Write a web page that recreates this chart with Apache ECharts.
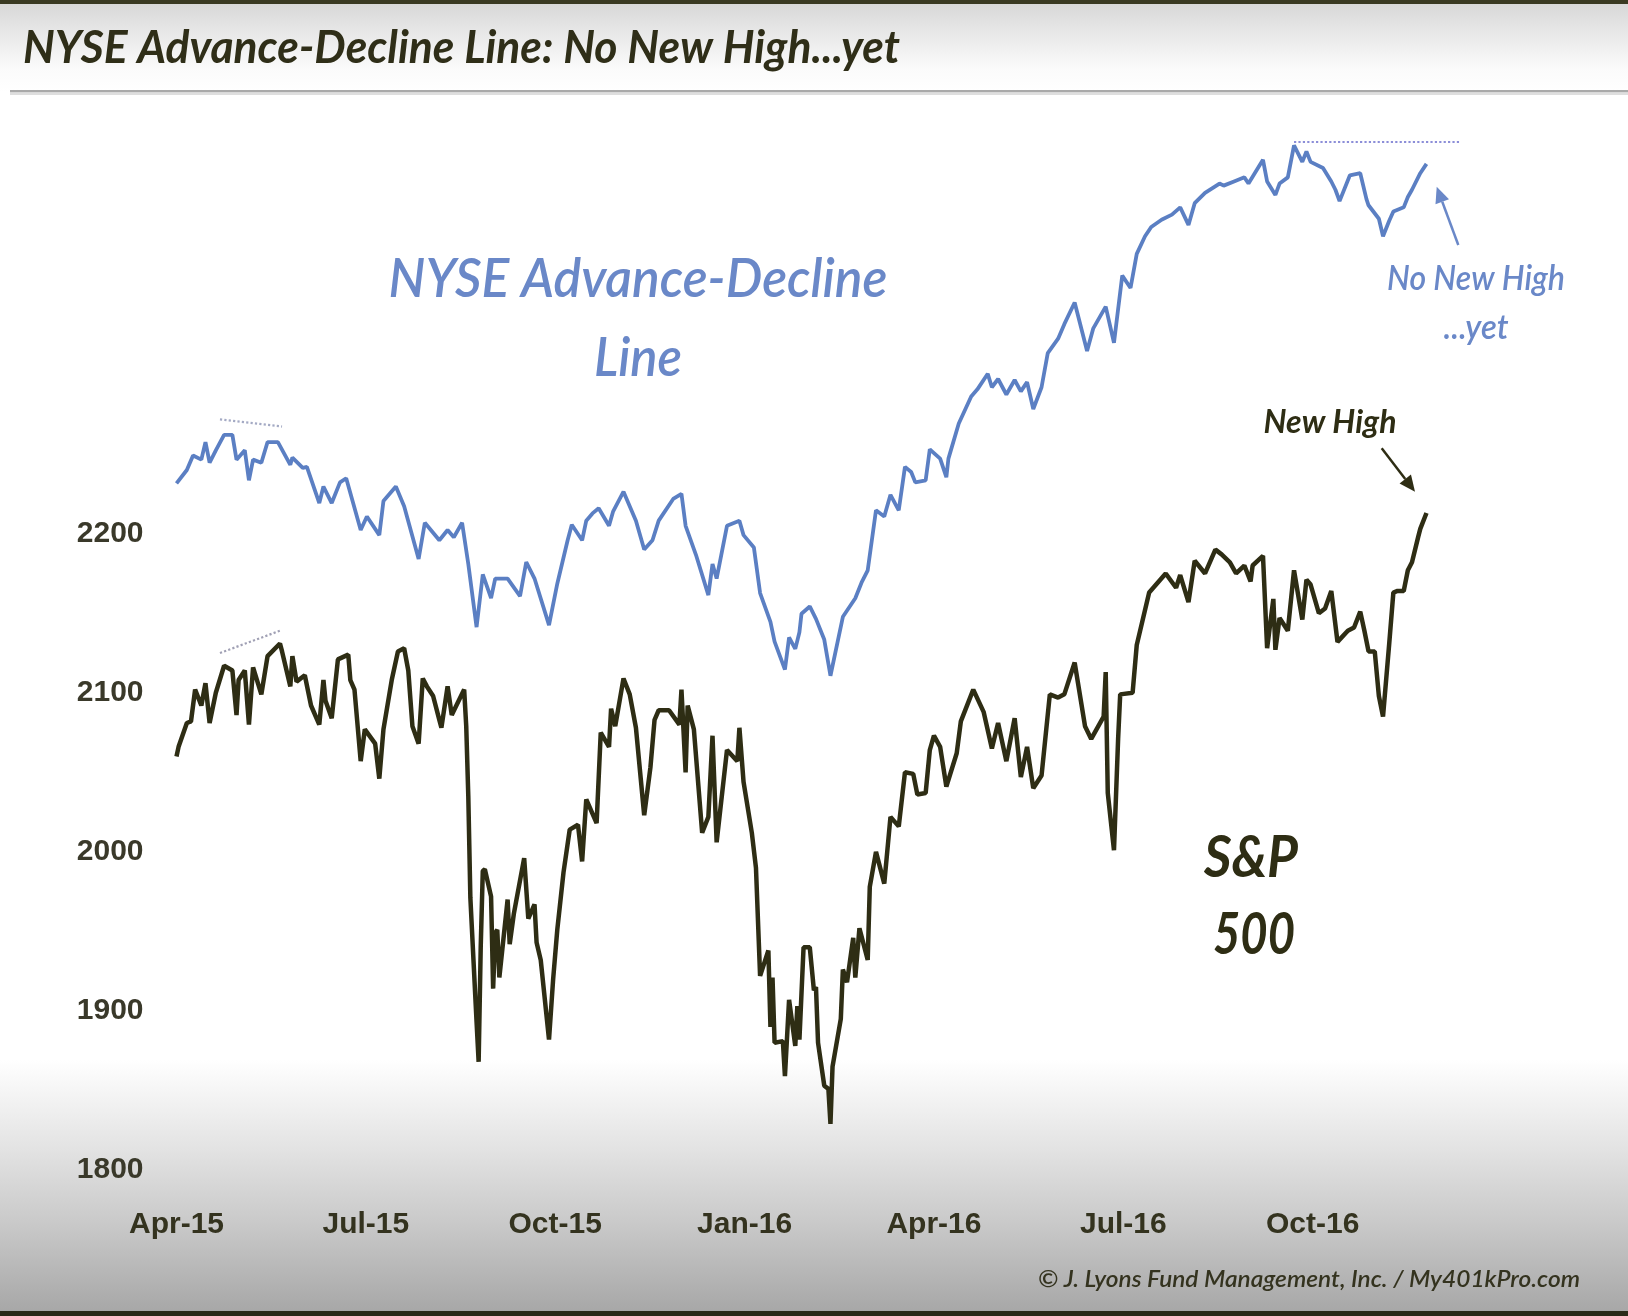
<!DOCTYPE html>
<html><head><meta charset="utf-8">
<script src="https://cdn.jsdelivr.net/npm/echarts@6/dist/echarts.min.js"></script>
<style>html,body{margin:0;padding:0;background:#fff}#c{width:1628px;height:1316px}</style>
</head><body><div id="c"></div><script>
// ---------------- DATA ----------------
const xTickLabels = ['Apr-15','Jul-15','Oct-15','Jan-16','Apr-16','Jul-16','Oct-16'];
const yTickValues = [1800, 1900, 2000, 2100, 2200];

const spDates = ['2015-04-01','2015-04-02','2015-04-06','2015-04-08','2015-04-10','2015-04-13','2015-04-15','2015-04-17','2015-04-20','2015-04-24','2015-04-28','2015-04-30','2015-05-01','2015-05-04','2015-05-06','2015-05-08','2015-05-12','2015-05-15','2015-05-21','2015-05-22','2015-05-26','2015-05-27','2015-05-29','2015-06-02','2015-06-05','2015-06-09','2015-06-11','2015-06-12','2015-06-15','2015-06-18','2015-06-23','2015-06-24','2015-06-26','2015-06-29','2015-07-01','2015-07-06','2015-07-08','2015-07-10','2015-07-14','2015-07-17','2015-07-20','2015-07-22','2015-07-24','2015-07-27','2015-07-29','2015-07-31','2015-08-03','2015-08-06','2015-08-07','2015-08-10','2015-08-12','2015-08-18','2015-08-19','2015-08-20','2015-08-21','2015-08-24','2015-08-25','2015-08-26','2015-08-27','2015-08-28','2015-08-31','2015-09-01','2015-09-02','2015-09-03','2015-09-04','2015-09-08','2015-09-09','2015-09-11','2015-09-16','2015-09-18','2015-09-21','2015-09-22','2015-09-24','2015-09-28','2015-09-30','2015-10-02','2015-10-05','2015-10-08','2015-10-12','2015-10-14','2015-10-16','2015-10-21','2015-10-23','2015-10-27','2015-10-28','2015-10-30','2015-11-03','2015-11-06','2015-11-09','2015-11-13','2015-11-16','2015-11-18','2015-11-20','2015-11-25','2015-11-30','2015-12-01','2015-12-03','2015-12-04','2015-12-07','2015-12-11','2015-12-14','2015-12-16','2015-12-18','2015-12-23','2015-12-28','2015-12-29','2015-12-31','2016-01-04','2016-01-06','2016-01-08','2016-01-12','2016-01-13','2016-01-14','2016-01-15','2016-01-19','2016-01-20','2016-01-22','2016-01-25','2016-01-26','2016-01-27','2016-01-29','2016-02-01','2016-02-03','2016-02-04','2016-02-05','2016-02-08','2016-02-10','2016-02-11','2016-02-12','2016-02-16','2016-02-17','2016-02-19','2016-02-22','2016-02-23','2016-02-25','2016-02-29','2016-03-01','2016-03-04','2016-03-08','2016-03-11','2016-03-15','2016-03-18','2016-03-22','2016-03-24','2016-03-28','2016-03-30','2016-04-01','2016-04-04','2016-04-07','2016-04-12','2016-04-14','2016-04-20','2016-04-25','2016-04-29','2016-05-02','2016-05-06','2016-05-10','2016-05-13','2016-05-16','2016-05-19','2016-05-23','2016-05-27','2016-05-31','2016-06-03','2016-06-08','2016-06-13','2016-06-16','2016-06-22','2016-06-23','2016-06-24','2016-06-27','2016-06-29','2016-06-30','2016-07-06','2016-07-08','2016-07-12','2016-07-14','2016-07-22','2016-07-27','2016-07-29','2016-08-02','2016-08-05','2016-08-10','2016-08-15','2016-08-18','2016-08-22','2016-08-25','2016-08-29','2016-09-01','2016-09-02','2016-09-07','2016-09-09','2016-09-12','2016-09-13','2016-09-15','2016-09-19','2016-09-22','2016-09-26','2016-09-28','2016-09-30','2016-10-04','2016-10-07','2016-10-10','2016-10-13','2016-10-18','2016-10-21','2016-10-24','2016-10-26','2016-10-28','2016-10-31','2016-11-02','2016-11-04','2016-11-07','2016-11-09','2016-11-11','2016-11-14','2016-11-16','2016-11-18','2016-11-21','2016-11-22','2016-11-25'];
const spValues = [2060,2066,2081,2082,2102,2092,2106,2081,2100,2117,2114,2086,2108,2114,2080,2116,2099,2123,2131,2126,2104,2123,2107,2111,2092,2080,2108,2095,2084,2121,2124,2108,2102,2057,2077,2068,2046,2077,2108,2126,2128,2114,2079,2068,2109,2104,2098,2083,2078,2104,2086,2102,2079,2035,1971,1893,1868,1940,1988,1989,1972,1914,1949,1951,1921,1970,1942,1961,1996,1958,1967,1943,1932,1882,1920,1951,1987,2014,2017,1994,2033,2018,2075,2066,2090,2079,2109,2099,2078,2023,2053,2083,2089,2089,2080,2102,2050,2092,2077,2012,2022,2073,2006,2064,2057,2078,2044,2012,1990,1922,1938,1890,1921,1880,1881,1859,1907,1878,1903,1882,1940,1940,1913,1915,1880,1853,1851,1829,1865,1895,1926,1918,1946,1921,1952,1932,1978,2000,1980,2022,2016,2050,2049,2036,2037,2064,2073,2066,2041,2062,2082,2102,2088,2065,2081,2057,2084,2047,2066,2040,2048,2099,2097,2099,2119,2079,2071,2085,2113,2037,2001,2071,2099,2100,2130,2152,2163,2175,2166,2174,2157,2183,2175,2190,2187,2182,2175,2180,2170,2180,2186,2128,2159,2127,2147,2139,2177,2146,2171,2168,2150,2153,2164,2132,2139,2141,2151,2139,2126,2126,2098,2085,2131,2163,2164,2164,2177,2182,2198,2203,2213];

// NYSE Advance-Decline line (relative index)
const adDates = ['2015-04-01','2015-04-06','2015-04-09','2015-04-13','2015-04-15','2015-04-17','2015-04-20','2015-04-24','2015-04-28','2015-04-30','2015-05-04','2015-05-06','2015-05-08','2015-05-12','2015-05-15','2015-05-20','2015-05-26','2015-05-27','2015-06-01','2015-06-03','2015-06-09','2015-06-11','2015-06-15','2015-06-19','2015-06-22','2015-06-29','2015-07-02','2015-07-08','2015-07-10','2015-07-16','2015-07-20','2015-07-27','2015-07-30','2015-08-06','2015-08-10','2015-08-13','2015-08-17','2015-08-20','2015-08-24','2015-08-27','2015-08-31','2015-09-02','2015-09-08','2015-09-14','2015-09-17','2015-09-21','2015-09-28','2015-10-02','2015-10-07','2015-10-09','2015-10-14','2015-10-16','2015-10-19','2015-10-22','2015-10-27','2015-10-29','2015-11-03','2015-11-09','2015-11-13','2015-11-17','2015-11-20','2015-11-27','2015-12-01','2015-12-03','2015-12-08','2015-12-14','2015-12-16','2015-12-18','2015-12-23','2015-12-29','2015-12-31','2016-01-05','2016-01-08','2016-01-13','2016-01-15','2016-01-20','2016-01-22','2016-01-25','2016-01-27','2016-01-28','2016-02-01','2016-02-04','2016-02-08','2016-02-11','2016-02-17','2016-02-23','2016-02-26','2016-02-29','2016-03-04','2016-03-08','2016-03-11','2016-03-15','2016-03-18','2016-03-21','2016-03-23','2016-03-28','2016-03-30','2016-04-04','2016-04-07','2016-04-08','2016-04-13','2016-04-19','2016-04-22','2016-04-27','2016-04-29','2016-05-02','2016-05-06','2016-05-10','2016-05-13','2016-05-16','2016-05-19','2016-05-23','2016-05-26','2016-05-31','2016-06-03','2016-06-08','2016-06-14','2016-06-17','2016-06-23','2016-06-27','2016-07-01','2016-07-05','2016-07-08','2016-07-12','2016-07-15','2016-07-20','2016-07-25','2016-07-29','2016-08-02','2016-08-05','2016-08-10','2016-08-17','2016-08-19','2016-08-24','2016-08-29','2016-08-31','2016-09-07','2016-09-09','2016-09-13','2016-09-15','2016-09-19','2016-09-22','2016-09-26','2016-09-28','2016-09-30','2016-10-06','2016-10-10','2016-10-12','2016-10-14','2016-10-19','2016-10-24','2016-10-27','2016-10-28','2016-11-02','2016-11-04','2016-11-07','2016-11-09','2016-11-14','2016-11-16','2016-11-18','2016-11-22','2016-11-25'];
const adValues = [66.4,67.7,69.1,68.7,70.4,68.4,69.6,71.1,71.1,68.7,69.6,66.7,68.7,68.4,70.4,70.4,68.2,68.9,67.9,68.0,64.5,66.1,64.5,66.5,66.9,61.9,63.2,61.4,64.7,66.1,64.2,59.1,62.6,60.9,61.9,61.2,62.6,58.6,52.5,57.6,55.3,57.2,57.2,55.5,58.8,57.2,52.7,56.7,60.9,62.4,60.9,62.8,63.5,64.0,62.3,63.7,65.6,62.8,60.0,60.9,62.8,64.9,65.4,62.3,59.5,55.6,58.6,57.2,62.3,62.8,61.4,60.2,55.8,53.0,51.1,48.4,51.5,50.4,52.0,53.8,54.5,53.3,51.3,47.8,53.5,55.3,56.8,58.0,63.8,63.2,65.3,63.8,68.0,67.5,66.5,66.7,69.7,68.8,67.0,68.8,72.2,74.8,75.5,77.0,75.7,76.5,75.0,76.4,75.3,76.2,73.6,75.7,79.0,80.4,81.8,83.9,79.2,81.4,83.5,80.0,86.5,85.3,88.6,90.3,91.2,91.9,92.4,93.1,91.4,93.5,94.5,95.4,95.2,95.6,96.0,95.4,97.7,95.6,94.3,95.4,96.0,99.1,97.5,98.5,97.5,96.9,95.6,94.8,93.7,96.2,96.4,93.9,93.3,92.0,90.3,91.8,92.7,93.1,94.1,94.8,96.4,97.3];

// dotted guide lines drawn in the original (start / end points in data units)
const spEarlyGuide = [['2015-04-22', 2125], ['2015-05-21', 2139]];
const adEarlyGuide = [['2015-04-22', 72.6], ['2015-05-22', 71.9]];
const adHighGuide  = [['2016-09-22', 99.4], ['2016-12-11', 99.4]];
const xMaxDate = '2016-12-13';

// ---------------- HELPERS ----------------
const BASE = Date.UTC(2015, 3, 1);
function dayOf(s) { const p = s.split('-').map(Number); return Math.round((Date.UTC(p[0], p[1]-1, p[2]) - BASE) / 86400000); }
const QUARTER = 91.5;
const spData = spDates.map((d, i) => [dayOf(d), spValues[i]]);
const adData = adDates.map((d, i) => [dayOf(d), adValues[i]]);
const guide = (g, style) => [{coord: [dayOf(g[0][0]), g[0][1]], lineStyle: style}, {coord: [dayOf(g[1][0]), g[1][1]]}];

const ANNO_FONT = 'Lato, "Open Sans", "Liberation Sans", sans-serif';
const AXIS_FONT = '"Liberation Sans", Arial, sans-serif';
const OLIVE = '#2e2d14';
const BLUE_LINE = '#5b7fc3';
const BLUE_TEXT = '#6a88c8';

const mctx = document.createElement('canvas').getContext('2d');
function arrow(x1, y1, x2, y2, color, w, head) {
  const a = Math.atan2(y2 - y1, x2 - x1);
  const bx = x2 - head * Math.cos(a), by = y2 - head * Math.sin(a);
  const px = Math.sin(a) * head * 0.45, py = -Math.cos(a) * head * 0.45;
  return [
    {type: 'line', silent: true, shape: {x1, y1, x2: bx, y2: by}, style: {stroke: color, lineWidth: w}},
    {type: 'polygon', silent: true, shape: {points: [[x2, y2], [bx + px, by + py], [bx - px, by - py]]}, style: {fill: color}}
  ];
}
// text squeezed horizontally to the width it has in the original slide
function txt(text, x, y, size, color, align, weight, targetWidth) {
  mctx.font = 'italic ' + weight + ' ' + size + 'px ' + ANNO_FONT;
  const w = mctx.measureText(text).width;
  const s = targetWidth ? targetWidth / w : 1;
  return {type: 'text', silent: true, x, y, scaleX: s, z: 20,
    style: {text, fill: color, fontFamily: ANNO_FONT, fontSize: size, fontStyle: 'italic', fontWeight: weight, align, verticalAlign: 'middle'}};
}

const chart = echarts.init(document.getElementById('c'), null, {renderer: 'canvas'});
chart.setOption({
  backgroundColor: '#ffffff',
  animation: false,
  grid: {left: 176.5, top: 136, width: dayOf(xMaxDate) * 2.0695, height: 1034, outerBoundsMode: 'none'},
  xAxis: {
    type: 'value', min: 0, max: dayOf(xMaxDate), interval: QUARTER,
    axisLine: {show: false}, axisTick: {show: false}, splitLine: {show: false},
    axisLabel: {
      margin: 40, color: '#34331f', fontFamily: AXIS_FONT, fontSize: 30, fontWeight: 'bold', showMaxLabel: false,
      formatter: v => { const i = Math.round(v / QUARTER); return (Math.abs(v - i * QUARTER) < 0.01 && i < xTickLabels.length) ? xTickLabels[i] : ''; }
    }
  },
  yAxis: [{
    type: 'value', min: 1800, max: 2450, interval: 100,
    axisLine: {show: false}, axisTick: {show: false}, splitLine: {show: false},
    axisLabel: {margin: 33, color: '#3a392a', fontFamily: AXIS_FONT, fontSize: 30, fontWeight: 'bold',
      formatter: v => yTickValues.indexOf(v) >= 0 ? String(v) : ''}
  }, {
    type: 'value', min: 0, max: 100, show: false
  }],
  series: [{
    name: 'NYSE Advance-Decline Line', type: 'line', yAxisIndex: 1, data: adData, showSymbol: false,
    lineStyle: {color: BLUE_LINE, width: 3.8}, z: 3,
    markLine: {silent: true, symbol: 'none', label: {show: false},
      data: [
        guide(adHighGuide, {color: '#8c8ed8', type: 'dotted', width: 2.2}),
        guide(adEarlyGuide, {color: '#a4aac4', type: 'dotted', width: 2.2})
      ]
    }
  }, {
    name: 'S&P 500', type: 'line', yAxisIndex: 0, data: spData, showSymbol: false,
    lineStyle: {color: OLIVE, width: 4.5}, z: 4,
    markLine: {silent: true, symbol: 'none', label: {show: false},
      data: [guide(spEarlyGuide, {color: '#a0a0b4', type: 'dotted', width: 2.2})]
    }
  }],
  graphic: [
    {type: 'rect', silent: true, z: -10, shape: {x: 0, y: 0, width: 1628, height: 92},
      style: {fill: new echarts.graphic.LinearGradient(0, 0, 0, 1, [{offset: 0, color: '#d6d6d6'}, {offset: 0.75, color: '#fbfbfb'}, {offset: 1, color: '#ffffff'}])}},
    {type: 'rect', silent: true, z: -10, shape: {x: 0, y: 0, width: 1628, height: 4}, style: {fill: '#3a3a22'}},
    {type: 'rect', silent: true, z: -10, shape: {x: 10, y: 90, width: 1618, height: 2.5}, style: {fill: '#a9a9a9'}},
    {type: 'rect', silent: true, z: -10, shape: {x: 10, y: 92.5, width: 1618, height: 2.5}, style: {fill: '#dedede'}},
    {type: 'rect', silent: true, z: -10, shape: {x: 0, y: 1060, width: 1628, height: 252},
      style: {fill: new echarts.graphic.LinearGradient(0, 0, 0, 1, [{offset: 0, color: '#ffffff'}, {offset: 0.35, color: '#e3e3e3'}, {offset: 0.65, color: '#c9c9c9'}, {offset: 1, color: '#a7a7a7'}])}},
    {type: 'rect', silent: true, z: -10, shape: {x: 0, y: 1311, width: 1628, height: 5}, style: {fill: '#2a2a18'}},
    txt('NYSE Advance-Decline Line: No New High...yet', 23, 48, 46, '#2f2e18', 'left', 'bold', 877),
    txt('NYSE Advance-Decline', 638, 280, 54, BLUE_TEXT, 'center', 600, 499),
    txt('Line', 638, 359, 54, BLUE_TEXT, 'center', 600, 88),
    txt('S&P', 1251, 858, 58, OLIVE, 'center', 'bold', 94),
    txt('500', 1254, 935, 58, OLIVE, 'center', 'bold', 82),
    txt('New High', 1330, 422, 33, OLIVE, 'center', 'bold', 133),
    txt('No New High', 1476, 279, 35, BLUE_TEXT, 'center', 600, 178),
    txt('...yet', 1476, 328, 35, BLUE_TEXT, 'center', 600, 65),
    txt('\u00a9 J. Lyons Fund Management, Inc. / My401kPro.com', 1580, 1280, 23, '#34331f', 'right', 600, 542),
    ...arrow(1381.7, 448.3, 1415, 491.7, OLIVE, 2.5, 16),
    ...arrow(1458.3, 245, 1436.7, 186.7, BLUE_TEXT, 2.5, 16)
  ]
});
</script></body></html>
